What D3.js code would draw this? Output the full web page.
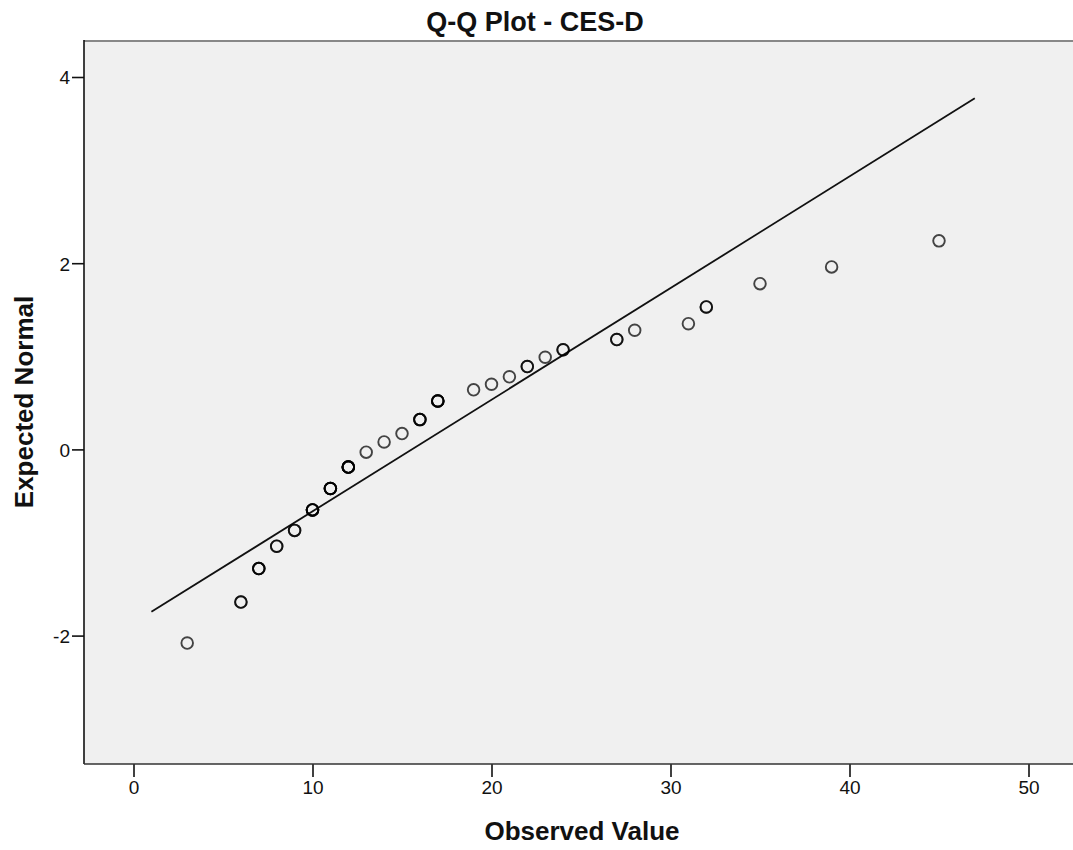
<!DOCTYPE html>
<html>
<head>
<meta charset="utf-8">
<script src="https://cdn.jsdelivr.net/npm/d3@7"></script>
<style>
  body { margin: 0; background: #fff; }
  text { font-family: "Liberation Sans", Arial, sans-serif; }
</style>
</head>
<body>
<div id="chart"></div>
<script>
var width = 1073;
var height = 850;

// observed CES-D scores and their expected normal values
var observed = [3, 6, 7, 8, 9, 10, 11, 12, 13, 14, 15, 16, 17, 19, 20, 21, 22, 23, 24, 27, 28, 31, 32, 35, 39, 45];
var expected = [-2.08, -1.64, -1.28, -1.04, -0.87, -0.65, -0.42, -0.19, -0.03, 0.08, 0.17, 0.32, 0.52, 0.64, 0.70, 0.78, 0.89, 0.99, 1.07, 1.18, 1.28, 1.35, 1.53, 1.78, 1.96, 2.24];
// number of tied cases at each score (overlapping circles look darker)
var cases = [1, 2, 3, 2, 2, 4, 4, 5, 1, 1, 1, 3, 4, 1, 1, 1, 2, 1, 2, 2, 1, 1, 2, 1, 1, 1];

// reference normal line
var lineRange = [1, 47];
var mean = 15.55;
var sd = 8.34;

var xTicks = [0, 10, 20, 30, 40, 50];
var yTicks = [-2, 0, 2, 4];

var plot = {left: 84, top: 41, right: 1080, bottom: 764};

var svg = d3.select("#chart")
  .append("svg")
  .attr("width", width)
  .attr("height", height);

var xScale = d3.scaleLinear()
  .domain([0, 50])
  .range([133.5, 1028.5]);

var yScale = d3.scaleLinear()
  .domain([-2, 4])
  .range([635.6, 77]);

svg.append("rect")
  .attr("x", plot.left)
  .attr("y", plot.top)
  .attr("width", plot.right - plot.left)
  .attr("height", plot.bottom - plot.top)
  .attr("fill", "#f0f0f0");

// axes
var fmt = function(d) { return d < 0 ? "-" + Math.abs(d) : String(d); };

var xAxis = svg.append("g")
  .attr("transform", `translate(0,${plot.bottom})`)
  .call(d3.axisBottom(xScale).tickValues(xTicks).tickFormat(fmt).tickSize(13).tickPadding(4));

var yAxis = svg.append("g")
  .attr("transform", `translate(${plot.left},0)`)
  .call(d3.axisLeft(yScale).tickValues(yTicks).tickFormat(fmt).tickSize(12).tickPadding(2));

[xAxis, yAxis].forEach(function(a) {
  a.select(".domain").remove();
  a.selectAll(".tick line").attr("stroke", "#111").attr("stroke-width", 1.6);
  a.selectAll(".tick text")
    .attr("fill", "#111")
    .style("font-size", "19px")
    .style("font-family", "'Liberation Sans', Arial, sans-serif");
});
yAxis.selectAll(".tick text").attr("dy", "0.36em");

// frame
svg.append("line")
  .attr("x1", plot.left).attr("x2", plot.right)
  .attr("y1", plot.top).attr("y2", plot.top)
  .attr("stroke", "#888").attr("stroke-width", 2.2);
svg.append("line")
  .attr("x1", plot.left).attr("x2", plot.left)
  .attr("y1", plot.top - 1).attr("y2", plot.bottom)
  .attr("stroke", "#111").attr("stroke-width", 1.6);
svg.append("line")
  .attr("x1", plot.left).attr("x2", plot.right)
  .attr("y1", plot.bottom).attr("y2", plot.bottom)
  .attr("stroke", "#333").attr("stroke-width", 1.6);

// reference line
svg.append("line")
  .attr("x1", xScale(lineRange[0]))
  .attr("y1", yScale((lineRange[0] - mean) / sd))
  .attr("x2", xScale(lineRange[1]))
  .attr("y2", yScale((lineRange[1] - mean) / sd))
  .attr("stroke", "#111")
  .attr("stroke-width", 1.8);

// points, one circle per case
var pts = [];
observed.forEach(function(o, i) {
  for (var k = 0; k < cases[i]; k++) pts.push({obs: o, exp: expected[i]});
});

svg.selectAll("circle.pt")
  .data(pts)
  .enter()
  .append("circle")
    .attr("class", "pt")
    .attr("cx", function(d) { return xScale(d.obs); })
    .attr("cy", function(d) { return yScale(d.exp); })
    .attr("r", 5.8)
    .attr("fill", "none")
    .attr("stroke", "#000")
    .attr("stroke-opacity", 0.72)
    .attr("stroke-width", 1.9);

// titles
svg.append("text")
  .attr("x", 535)
  .attr("y", 31)
  .attr("text-anchor", "middle")
  .style("font-size", "27px")
  .style("font-weight", "bold")
  .attr("fill", "#111")
  .text("Q-Q Plot - CES-D");

svg.append("text")
  .attr("x", 582)
  .attr("y", 840)
  .attr("text-anchor", "middle")
  .style("font-size", "26px")
  .style("font-weight", "bold")
  .attr("fill", "#111")
  .text("Observed Value");

svg.append("text")
  .attr("transform", "translate(33,402) rotate(-90)")
  .attr("text-anchor", "middle")
  .style("font-size", "26px")
  .style("font-weight", "bold")
  .attr("fill", "#111")
  .text("Expected Normal");
</script>
</body>
</html>
